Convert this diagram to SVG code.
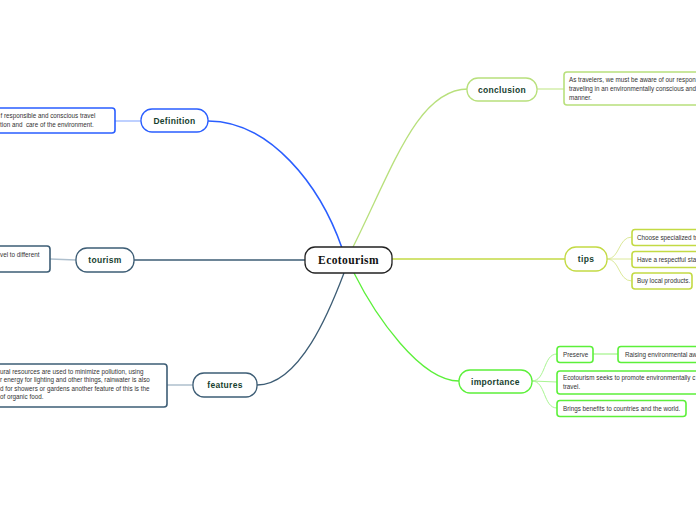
<svg xmlns="http://www.w3.org/2000/svg" width="696" height="520" viewBox="0 0 696 520">
<style>
.pill{fill:#fff;stroke-width:1.3}
.box{fill:#fff;stroke-width:1.6}
.lbl{font-family:"Liberation Sans",Arial,sans-serif;font-weight:bold;font-size:8.5px;fill:#173f2f;text-anchor:middle;letter-spacing:0.3px}
.txt{font-family:"Liberation Sans",Arial,sans-serif;font-size:6.3px;fill:#333;white-space:pre}
.c{fill:none}
.blue{stroke:#2a5eff}
.slate{stroke:#3d5d75}
.lgreen{stroke:#b8e07c}
.yg{stroke:#c3da44}
.green{stroke:#5cf03a}
</style>
<rect width="696" height="520" fill="#fff"/>
<g id="connectors">
<path class="c blue" stroke-width="1.5" d="M208,121 C270,121 320,185 342,248"/>
<path class="c" stroke="#a9c1ff" stroke-width="1.5" d="M115,121 L141,121"/>
<path class="c slate" stroke-width="1.3" d="M134,260 L305,260"/>
<path class="c" stroke="#aebfcd" stroke-width="1.5" d="M50,259 L76,260"/>
<path class="c slate" stroke-width="1.3" d="M344,273 C330,310 300,385 257,385"/>
<path class="c" stroke="#aebfcd" stroke-width="1.5" d="M167,385 L193,385"/>
<path class="c lgreen" stroke-width="1.3" d="M468,89 C418,89 393,167 353,247"/>
<path class="c" stroke="#d3eeaa" stroke-width="1.5" d="M537,89 L564,89"/>
<path class="c yg" stroke-width="1.3" d="M392,259 L565,259"/>
<path class="c" stroke="#dce99a" stroke-width="1" d="M607,259 C620,259 618,237 632,237 M607,259 L632,259 M607,259 C620,259 618,281 632,281"/>
<path class="c green" stroke-width="1.3" d="M354,273 C375,315 420,381 459,381"/>
<path class="c" stroke="#a9f592" stroke-width="1" d="M532,381 C546,381 543,354 557,354 M532,381 L557,382 M532,381 C546,381 543,408 557,408"/>
<path class="c" stroke="#a9f592" stroke-width="1.3" d="M593,354 L618,354"/>
</g>
<g id="center">
<rect x="305" y="247" width="87" height="26" rx="10" fill="#fff" stroke="#222" stroke-width="1.3"/>
<text x="348.5" y="264" font-family="'Liberation Serif','Times New Roman',serif" font-weight="bold" font-size="11.5px" fill="#111" text-anchor="middle" letter-spacing="0.4">Ecotourism</text>
</g>
<g id="definition">
<rect class="pill blue" x="141" y="109" width="67" height="23" rx="11"/>
<text class="lbl" x="174.5" y="123.5">Definition</text>
</g>
<g id="definition-text">
<rect class="box blue" x="-20" y="108" width="135" height="25" rx="3"/>
<text class="txt" x="0.5" y="118">f responsible and conscious travel</text>
<text class="txt" x="0" y="127">tion and  care of the environment.</text>
</g>
<g id="tourism">
<rect class="pill slate" x="76" y="248" width="58" height="24" rx="11"/>
<text class="lbl" x="105" y="263">tourism</text>
</g>
<g id="tourism-text">
<rect class="box slate" x="-20" y="246" width="70" height="26" rx="3"/>
<text class="txt" x="0" y="257">vel to different</text>
</g>
<g id="features">
<rect class="pill slate" x="193" y="373" width="64" height="24" rx="11"/>
<text class="lbl" x="225" y="388">features</text>
</g>
<g id="features-text">
<rect class="box slate" x="-20" y="364" width="187" height="43" rx="3"/>
<text class="txt" x="0" y="373.5">ural resources are used to minimize pollution, using</text>
<text class="txt" x="0" y="382">r energy for lighting and other things, rainwater is also</text>
<text class="txt" x="0" y="390.5">d for showers or gardens another feature of this is the</text>
<text class="txt" x="0" y="399">of organic food.</text>
</g>
<g id="conclusion">
<rect class="pill lgreen" x="467" y="78" width="70" height="23" rx="11"/>
<text class="lbl" x="502" y="92.5">conclusion</text>
</g>
<g id="conclusion-text">
<rect class="box lgreen" x="564" y="72" width="150" height="33" rx="3"/>
<text class="txt" x="569" y="82">As travelers, we must be aware of our respon</text>
<text class="txt" x="569" y="91">traveling in an environmentally conscious and</text>
<text class="txt" x="569" y="100">manner.</text>
</g>
<g id="tips">
<rect class="pill yg" x="565" y="247" width="42" height="24" rx="11"/>
<text class="lbl" x="586" y="262">tips</text>
</g>
<g id="tip-1">
<rect class="box yg" x="632" y="229.5" width="80" height="16" rx="3"/>
<text class="txt" x="637" y="239.5">Choose specialized tr</text>
</g>
<g id="tip-2">
<rect class="box yg" x="632" y="251.5" width="80" height="16" rx="3"/>
<text class="txt" x="637" y="261.5">Have a respectful sta</text>
</g>
<g id="tip-3">
<rect class="box yg" x="632" y="273" width="60" height="16" rx="3"/>
<text class="txt" x="637" y="283">Buy local products.</text>
</g>
<g id="importance">
<rect class="pill green" x="459" y="370" width="73" height="23" rx="11"/>
<text class="lbl" x="495.5" y="384.5">importance</text>
</g>
<g id="preserve">
<rect class="box green" x="557" y="346.5" width="36" height="16" rx="3"/>
<text class="txt" x="563" y="356.5">Preserve</text>
</g>
<g id="raising">
<rect class="box green" x="618" y="346.5" width="100" height="16" rx="3"/>
<text class="txt" x="625" y="356.5">Raising environmental aw</text>
</g>
<g id="seeks">
<rect class="box green" x="557" y="371" width="160" height="23" rx="3"/>
<text class="txt" x="563" y="380">Ecotourism seeks to promote environmentally c</text>
<text class="txt" x="563" y="389">travel.</text>
</g>
<g id="brings">
<rect class="box green" x="557" y="400.5" width="129" height="16" rx="3"/>
<text class="txt" x="563" y="410.5">Brings benefits to countries and the world.</text>
</g>
</svg>
